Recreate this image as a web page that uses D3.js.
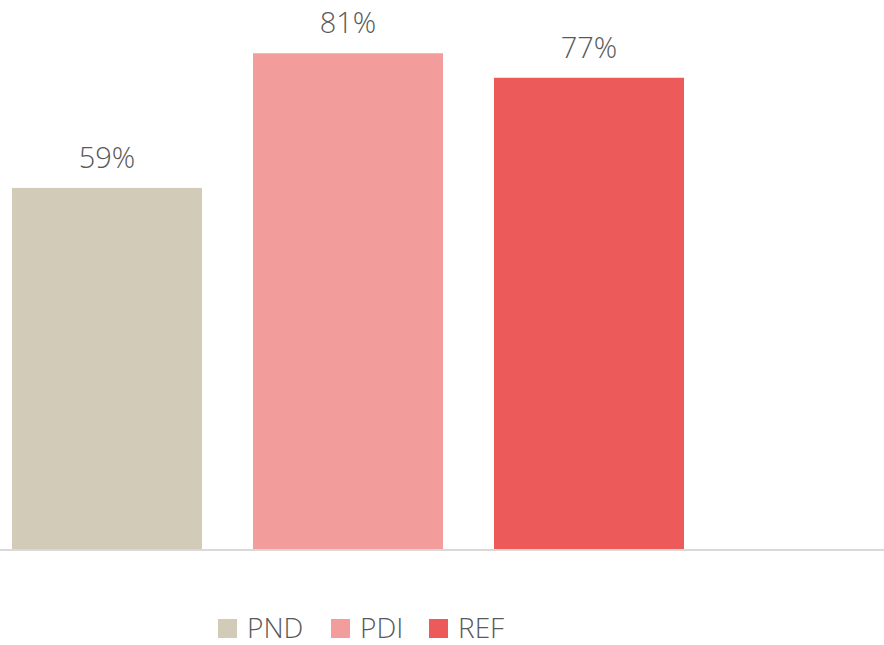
<!DOCTYPE html>
<html><head><meta charset="utf-8">
<script src="https://cdn.jsdelivr.net/npm/d3@7"></script>
<style>
html,body{margin:0;padding:0;background:#fff;}
svg{display:block;font-family:"Segoe UI Light","Open Sans","Lato",sans-serif;font-weight:300;}
</style></head>
<body>
<script>
const categories = ["PND", "PDI", "REF"];
const values = [0.59, 0.81, 0.77];
const colors = ["#D2CBB8", "#F29C9B", "#EC5A5A"];

const W = 884, H = 645;
const svg = d3.select("body").append("svg").attr("width", W).attr("height", H);

const pi = 51 / 241;
const x = d3.scaleBand().domain(categories).range([-13.5, 709.5])
  .paddingInner(pi).paddingOuter(pi / 2);
const y = d3.scaleLinear().domain([0, 1]).range([549, -63]);

svg.selectAll("rect.bar").data(categories).join("rect")
  .attr("class", "bar")
  .attr("x", d => x(d))
  .attr("width", x.bandwidth())
  .attr("y", (d, i) => y(values[i]))
  .attr("height", (d, i) => y(0) - y(values[i]))
  .attr("fill", (d, i) => colors[i]);

svg.append("line").attr("x1", 0).attr("x2", W).attr("y1", y(0) + 1).attr("y2", y(0) + 1)
  .attr("stroke", "#D9D9D9").attr("stroke-width", 2);

svg.selectAll("text.lbl").data(categories).join("text")
  .attr("class", "lbl")
  .attr("x", d => x(d) + x.bandwidth() / 2)
  .attr("y", (d, i) => y(values[i]) - 20)
  .attr("text-anchor", "middle")
  .attr("font-size", 29)
  .attr("fill", "#595959")
  .text((d, i) => d3.format(".0%")(values[i]));

const legendX = [218, 331, 429];
const lg = svg.selectAll("g.leg").data(categories).join("g")
  .attr("class", "leg")
  .attr("transform", (d, i) => `translate(${legendX[i]},619)`);
lg.append("rect").attr("width", 19).attr("height", 19).attr("fill", (d, i) => colors[i]);
lg.append("text").attr("x", 29).attr("y", 19).attr("font-size", 28).attr("fill", "#595959").text(d => d);
</script>
</body></html>
